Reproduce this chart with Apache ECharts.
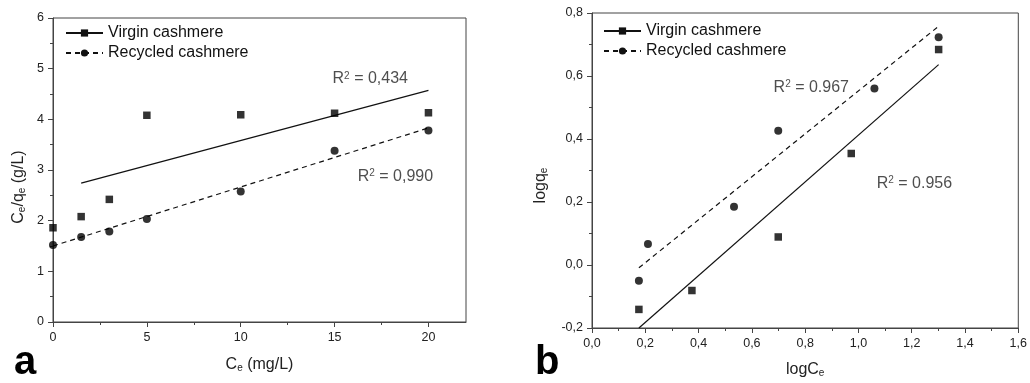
<!DOCTYPE html>
<html><head><meta charset="utf-8">
<script src="https://cdn.jsdelivr.net/npm/echarts@6/dist/echarts.min.js"></script>
<style>html,body{margin:0;padding:0;background:#fff}#c{width:1030px;height:383px}</style>
</head><body><div id="c"></div>
<script>
// ---- Panel a: Langmuir (Ce/qe vs Ce)
const ceA = [0, 1.5, 3, 5, 10, 15, 20];
const virginA = [1.86, 2.08, 2.42, 4.08, 4.09, 4.12, 4.13];
const recycledA = [1.52, 1.68, 1.785, 2.035, 2.575, 3.38, 3.78];
const virginFitA = [[1.5, 2.74], [20, 4.57]];
const recycledFitA = [[0, 1.50], [20, 3.83]];
const xTicksA = [0, 5, 10, 15, 20];
const xMinorTicksA = [2.5, 7.5, 12.5, 17.5];
const r2A = ['0,434', '0,990'];
// ---- Panel b: Freundlich (log qe vs log Ce)
const logCeVirginB = [0.176, 0.375, 0.699, 0.973, 1.301];
const logQeVirginB = [-0.141, -0.081, 0.089, 0.354, 0.684];
const logCeRecycledB = [0.176, 0.21, 0.533, 0.699, 1.06, 1.301];
const logQeRecycledB = [-0.05, 0.067, 0.185, 0.426, 0.56, 0.723];
const virginFitB = [[0.176, -0.2], [1.301, 0.636]];
const recycledFitB = [[0.176, -0.009], [1.301, 0.758]];
const r2B = ['0.967', '0.956'];
const names = ['Virgin cashmere', 'Recycled cashmere'];

const FONT = '"Liberation Sans", Arial, sans-serif';
const AX = '#444', TXT = '#222', INK = '#111';
const rich = {
  sub: {fontSize: 10, fontFamily: FONT, color: TXT, verticalAlign: 'bottom', padding: [6, 0, 0, 0]},
  sup: {fontSize: 10, fontFamily: FONT, color: TXT, verticalAlign: 'top', padding: [0, 0, 6, 0]},
  n: {fontSize: 16, fontFamily: FONT, color: TXT}
};
const comma = v => v.toFixed(1).replace('.', ',');

const zip = (xs, ys) => xs.map((x, i) => [x, ys[i]]);
function fit(name, pts, xi, yi, dashed, sym) {
  return {
    name, type: 'line', xAxisIndex: xi, yAxisIndex: yi,
    symbol: sym, symbolSize: 7, silent: true, animation: false,
    data: pts.map(p => ({value: p, symbol: 'none'})),
    lineStyle: {color: INK, width: 1.2, type: dashed ? [5, 4] : 'solid'},
    itemStyle: {color: INK}, z: 2
  };
}
function pts(name, data, xi, yi, sym, size) {
  return {name, type: 'scatter', xAxisIndex: xi, yAxisIndex: yi, symbol: sym, symbolSize: size,
    data, itemStyle: {color: '#000'}, animation: false, z: 3};
}
function note(xi, yi, x, y, val) {
  return {type: 'scatter', xAxisIndex: xi, yAxisIndex: yi, symbolSize: 1, silent: true, animation: false,
    itemStyle: {color: 'transparent'}, data: [[x, y]],
    label: {show: true, position: 'inside', formatter: '{n|R}{sup|2}{n| = ' + val + '}', rich}, z: 5};
}
const tickStyle = {lineStyle: {color: AX, width: 1}};
const label = {color: TXT, fontSize: 12.5, fontFamily: FONT, margin: 9};
const axLine = {show: true, onZero: false, lineStyle: {color: AX, width: 1}};

const option = {
  backgroundColor: '#fff',
  animation: false,
  textStyle: {fontFamily: FONT},
  grid: [
    {left: 53, top: 18, width: 413, height: 304, show: true, borderColor: AX, borderWidth: 1, backgroundColor: 'transparent'},
    {left: 592, top: 13, width: 427, height: 315, show: true, borderColor: AX, borderWidth: 1, backgroundColor: 'transparent'}
  ],
  legend: [
    {orient: 'vertical', left: 60, top: 20, itemWidth: 37, itemHeight: 9, itemGap: 4, data: names,
     selectedMode: false, textStyle: {fontSize: 16, color: INK, fontFamily: FONT}},
    {orient: 'vertical', left: 598, top: 18, itemWidth: 37, itemHeight: 9, itemGap: 4, data: names,
     selectedMode: false, textStyle: {fontSize: 16, color: INK, fontFamily: FONT}}
  ],
  xAxis: [
    {gridIndex: 0, type: 'value', min: 0, max: 22, position: 'bottom',
     axisLine: axLine,
     axisTick: Object.assign({show: true, length: 5, customValues: xTicksA}, tickStyle),
     axisLabel: Object.assign({customValues: xTicksA}, label),
     splitLine: {show: false},
     name: 'C{sub|e} (mg/L)', nameLocation: 'middle', nameGap: 35,
     nameTextStyle: {fontSize: 16, color: TXT, fontFamily: FONT, rich}},
    {gridIndex: 0, type: 'value', min: 0, max: 22, position: 'bottom',
     axisLine: {show: false, onZero: false}, axisLabel: {show: false}, splitLine: {show: false},
     axisTick: Object.assign({show: true, length: 3, customValues: xMinorTicksA}, tickStyle)},
    {gridIndex: 1, type: 'value', min: 0, max: 1.6, interval: 0.2, position: 'bottom',
     axisLine: axLine,
     axisTick: Object.assign({show: true, length: 5}, tickStyle),
     minorTick: {show: true, splitNumber: 2, length: 3, lineStyle: {color: AX, width: 1}},
     axisLabel: Object.assign({formatter: comma}, label),
     splitLine: {show: false},
     name: 'logC{sub|e}', nameLocation: 'middle', nameGap: 34,
     nameTextStyle: {fontSize: 16, color: TXT, fontFamily: FONT, rich}}
  ],
  yAxis: [
    {gridIndex: 0, type: 'value', min: 0, max: 6, interval: 1,
     axisLine: axLine,
     axisTick: Object.assign({show: true, length: 5}, tickStyle),
     minorTick: {show: true, splitNumber: 2, length: 3, lineStyle: {color: AX, width: 1}},
     axisLabel: label, splitLine: {show: false},
     name: 'C{sub|e}/q{sub|e} (g/L)', nameLocation: 'middle', nameGap: 26, nameRotate: 90,
     nameTextStyle: {fontSize: 16, color: TXT, fontFamily: FONT, rich, padding: [0, 34, 0, 0]}},
    {gridIndex: 1, type: 'value', min: -0.2, max: 0.8, interval: 0.2,
     axisLine: axLine,
     axisTick: Object.assign({show: true, length: 5}, tickStyle),
     minorTick: {show: true, splitNumber: 2, length: 3, lineStyle: {color: AX, width: 1}},
     axisLabel: Object.assign({formatter: comma}, label), splitLine: {show: false},
     name: 'logq{sub|e}', nameLocation: 'middle', nameGap: 43, nameRotate: 90,
     nameTextStyle: {fontSize: 16, color: TXT, fontFamily: FONT, rich, padding: [0, 30, 0, 0]}}
  ],
  series: [
    fit(names[0], virginFitA, 0, 0, false, 'rect'),
    fit(names[1], recycledFitA, 0, 0, true, 'circle'),
    fit(names[0], virginFitB, 2, 1, false, 'rect'),
    fit(names[1], recycledFitB, 2, 1, true, 'circle'),
    pts(names[0], zip(ceA, virginA), 0, 0, 'rect', 7.5),
    pts(names[1], zip(ceA, recycledA), 0, 0, 'circle', 8),
    pts(names[0], zip(logCeVirginB, logQeVirginB), 2, 1, 'rect', 7.5),
    pts(names[1], zip(logCeRecycledB, logQeRecycledB), 2, 1, 'circle', 8),
    note(0, 0, 16.9, 4.80, r2A[0]),
    note(0, 0, 18.24, 2.87, r2A[1]),
    note(2, 1, 0.823, 0.563, r2B[0]),
    note(2, 1, 1.21, 0.26, r2B[1])
  ],
  graphic: [
    {type: 'text', left: 14, top: 343, style: {text: 'a', font: 'bold 40px "Liberation Sans", Arial, sans-serif', fill: '#000'}},
    {type: 'text', left: 535, top: 343, style: {text: 'b', font: 'bold 40px "Liberation Sans", Arial, sans-serif', fill: '#000'}}
  ]
};
const chart = echarts.init(document.getElementById('c'), null, {renderer: 'canvas'});
chart.setOption(option);
</script>
</body></html>
